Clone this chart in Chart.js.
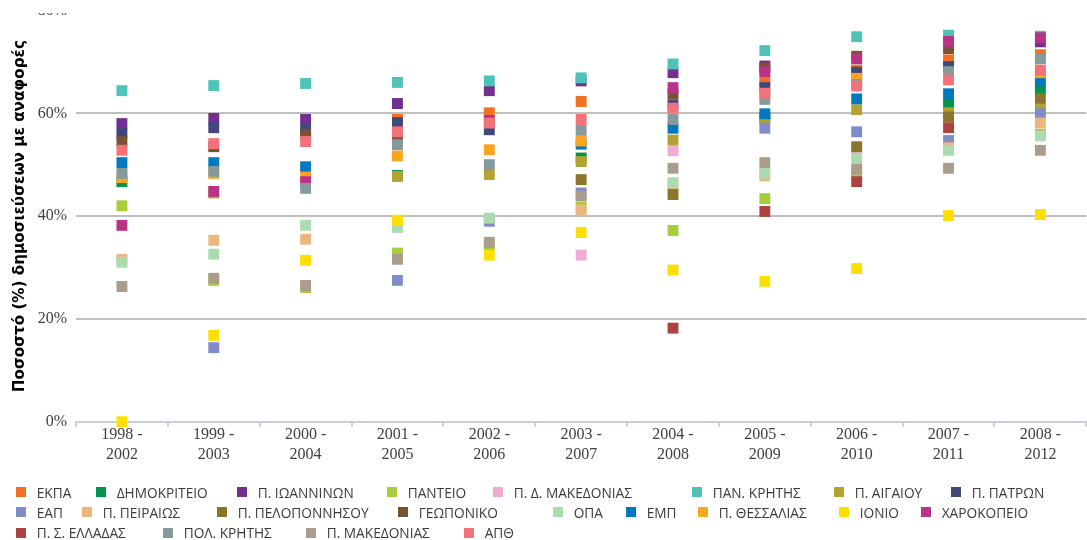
<!DOCTYPE html>
<html lang="el">
<head>
<meta charset="utf-8">
<title>Ποσοστό δημοσιεύσεων με αναφορές</title>
<script src="https://cdn.jsdelivr.net/npm/chart.js@4.4.1/dist/chart.umd.min.js"></script>
<style>
  html, body { margin: 0; padding: 0; background: #fff; overflow: hidden; }
  body { width: 1087px; height: 540px; position: relative; }
  #plot { position: absolute; left: 0; top: 0; width: 1094px; height: 467px; }
  #legend { position: absolute; left: 0; top: 0; width: 1087px; height: 540px; pointer-events: none;
            font: 13.7px "Open Sans", sans-serif; color: #3a3a3a; }
  .item { position: absolute; height: 20px; display: flex; align-items: center; white-space: nowrap; }
  .item i { display: block; width: 10px; height: 10px; margin-right: 10.7px; }
</style>
</head>
<body>
<div id="plot"><canvas id="chart"></canvas></div>
<div id="legend"></div>
<script>
// five-year windows on the x axis
const periods = [
  ['1998 -', '2002'], ['1999 -', '2003'], ['2000 -', '2004'], ['2001 -', '2005'],
  ['2002 -', '2006'], ['2003 -', '2007'], ['2004 -', '2008'], ['2005 -', '2009'],
  ['2006 -', '2010'], ['2007 -', '2011'], ['2008 -', '2012']
];

const universities = [
  'ΕΚΠΑ', 'ΔΗΜΟΚΡΙΤΕΙΟ', 'Π. ΙΩΑΝΝΙΝΩΝ', 'ΠΑΝΤΕΙΟ', 'Π. Δ. ΜΑΚΕΔΟΝΙΑΣ', 'ΠΑΝ. ΚΡΗΤΗΣ',
  'Π. ΑΙΓΑΙΟΥ', 'Π. ΠΑΤΡΩΝ', 'ΕΑΠ', 'Π. ΠΕΙΡΑΙΩΣ', 'Π. ΠΕΛΟΠΟΝΝΗΣΟΥ', 'ΓΕΩΠΟΝΙΚΟ', 'ΟΠΑ',
  'ΕΜΠ', 'Π. ΘΕΣΣΑΛΙΑΣ', 'ΙΟΝΙΟ', 'ΧΑΡΟΚΟΠΕΙΟ', 'Π. Σ. ΕΛΛΑΔΑΣ', 'ΠΟΛ. ΚΡΗΤΗΣ',
  'Π. ΜΑΚΕΔΟΝΙΑΣ', 'ΑΠΘ'
];

// % of publications with citations, one value per period (null = no value)
const ekpa        = [null, null, null, 58.8, 60.1, 62.3, null, 66.3, 68.4, 70.4, 71.4];
const dimokritio  = [46.7, null, null, 47.9, null, 51.3, null, 59.2, null, 61.9, 64.6];
const ioanninon   = [58.0, 59.0, 58.8, 61.9, 64.4, 66.3, 67.9, 69.2, null, null, 73.9];
const panteio     = [42.0, 27.5, 26.1, 32.8, 34.2, 41.7, 37.2, 43.4, 48.7, null, 55.9];
const dMakedonias = [null, null, null, null, null, 32.4, 52.7, null, 53.1, null, null];
const panKritis   = [64.4, 65.4, 65.8, 66.0, 66.3, 66.9, 69.6, 72.2, 74.9, 75.2, 75.0];
const aigaiou     = [null, 44.5, null, 47.7, 48.1, 50.6, 54.8, 59.1, 60.7, 60.1, 60.8];
const patron      = [56.2, 57.2, 56.9, 58.2, 56.8, null, 61.6, 65.0, 68.0, 69.1, null];
const eap         = [null, 14.4, null, 27.5, 39.0, 44.5, null, 57.1, 56.4, 54.7, 59.9];
const peiraios    = [31.6, 35.3, 35.5, null, null, 41.2, 46.3, 47.8, null, 53.3, 58.1];
const peloponnisou = [null, null, null, null, null, 47.1, 44.2, null, 53.5, 59.3, 62.9];
const geoponiko   = [54.5, 53.5, 55.9, 55.1, null, null, 63.7, 68.8, 71.1, 72.6, null];
const opa         = [31.0, 32.6, 38.2, 37.8, 39.6, null, 46.5, 48.3, 51.2, 52.8, 55.6];
const emp         = [50.4, 50.4, 49.6, null, null, 54.0, 57.1, 59.9, 62.8, 63.8, 66.3];
const thessalias  = [47.5, 48.3, 47.6, 51.7, 52.9, 54.6, null, null, 66.8, null, 67.9];
const ionio       = [0.0, 16.8, 31.4, 39.2, 32.4, 36.8, 29.5, 27.3, 29.8, 40.1, 40.3];
const charokopeio = [38.2, 44.8, 46.7, null, 58.6, null, 65.0, 68.1, 70.6, 74.0, 74.7];
const sEllados    = [null, null, null, null, null, null, 18.2, 40.9, 46.7, 57.2, null];
const polKritis   = [48.3, 48.7, 45.4, 53.9, 50.0, 56.7, 58.8, 62.7, 65.6, 68.1, 70.6];
const makedonias  = [26.3, 27.9, 26.5, 31.6, 34.9, 43.9, 49.3, 50.4, 49.1, 49.3, 52.8];
const apth        = [52.8, 54.1, 54.5, 56.4, 58.1, 58.8, 61.0, 63.9, 65.3, 66.5, 68.4];

const seriesValues = [
  ekpa, dimokritio, ioanninon, panteio, dMakedonias, panKritis, aigaiou, patron, eap,
  peiraios, peloponnisou, geoponiko, opa, emp, thessalias, ionio, charokopeio, sEllados,
  polKritis, makedonias, apth
];

const colors = [
  '#f36f21', '#00974b', '#722f8f', '#a8cd3a', '#f0abd0', '#50c3b8', '#b4a232',
  '#40487c', '#808cc8', '#ecb67f', '#8a752d', '#7b5234', '#acdbb1', '#0079c1',
  '#faa51e', '#fedf00', '#b83386', '#ac4340', '#849a9c', '#ab9d8e', '#f3727a'
];

// legend slots: [left px, row]
const legendSlots = [
  [16, 0], [96, 0], [237, 0], [387, 0], [493, 0], [692, 0], [834, 0], [951, 0],
  [16, 1], [82, 1], [217, 1], [398, 1], [553, 1], [626, 1], [698, 1], [839, 1], [921, 1],
  [16, 2], [163, 2], [306, 2], [464, 2]
];
const legendRowTop = [482, 502, 522.5];

const datasets = universities.map((name, i) => ({
  label: name,
  data: seriesValues[i],
  backgroundColor: colors[i],
  borderColor: colors[i],
  // later series sit on top of earlier ones
  order: universities.length - i,
  clip: false
}));

// the strip above the top gridline is left blank
const topTrim = {
  id: 'topTrim',
  afterDraw(chart) {
    chart.ctx.clearRect(0, 0, chart.width, 13);
  }
};

const serif = 'Liberation Serif, Times New Roman, serif';

new Chart(document.getElementById('chart'), {
  type: 'line',
  data: { labels: periods, datasets: datasets },
  options: {
    responsive: true,
    maintainAspectRatio: false,
    animation: false,
    showLine: false,
    layout: { padding: 0 },
    elements: {
      point: { pointStyle: 'rect', radius: 7.7, hoverRadius: 7.7, borderWidth: 0, hoverBorderWidth: 0 }
    },
    plugins: {
      legend: { display: false },
      tooltip: { enabled: true }
    },
    scales: {
      x: {
        offset: true,
        grid: { offset: true, drawOnChartArea: false, tickLength: 5, color: '#c3d0df', lineWidth: 2 },
        border: { color: '#c3d0df', width: 2 },
        ticks: {
          color: '#404040',
          font: { family: serif, size: 16, lineHeight: 1.25 },
          padding: -2,
          maxRotation: 0,
          autoSkip: false
        },
        afterFit(scale) { scale.height = 45.3; }
      },
      y: {
        min: 0,
        max: 80,
        border: { display: false },
        grid: {
          drawTicks: false,
          lineWidth: 2,
          color: ctx => (ctx.tick.value > 0 && ctx.tick.value < 80) ? '#bfbfbf' : 'rgba(0,0,0,0)'
        },
        ticks: {
          stepSize: 20,
          padding: 9,
          color: '#404040',
          font: { family: serif, size: 16 },
          callback: v => v + '%'
        },
        title: {
          display: true,
          text: 'Ποσοστό (%) δημοσιεύσεων με αναφορές',
          color: '#000',
          font: { family: 'DejaVu Sans', size: 15.2, weight: 'bold' },
          padding: { top: 11, bottom: 0 }
        },
        afterFit(scale) {
          scale.width = 76;
          scale.paddingTop = 10.5;
        }
      }
    }
  },
  plugins: [topTrim]
});

// legend in fixed slots under the plot
const legend = document.getElementById('legend');
universities.forEach((name, i) => {
  const [left, row] = legendSlots[i];
  const item = document.createElement('div');
  item.className = 'item';
  item.style.left = left + 'px';
  item.style.top = legendRowTop[row] + 'px';
  const box = document.createElement('i');
  box.style.background = colors[i];
  item.appendChild(box);
  item.appendChild(document.createTextNode(name));
  legend.appendChild(item);
});
</script>
</body>
</html>
